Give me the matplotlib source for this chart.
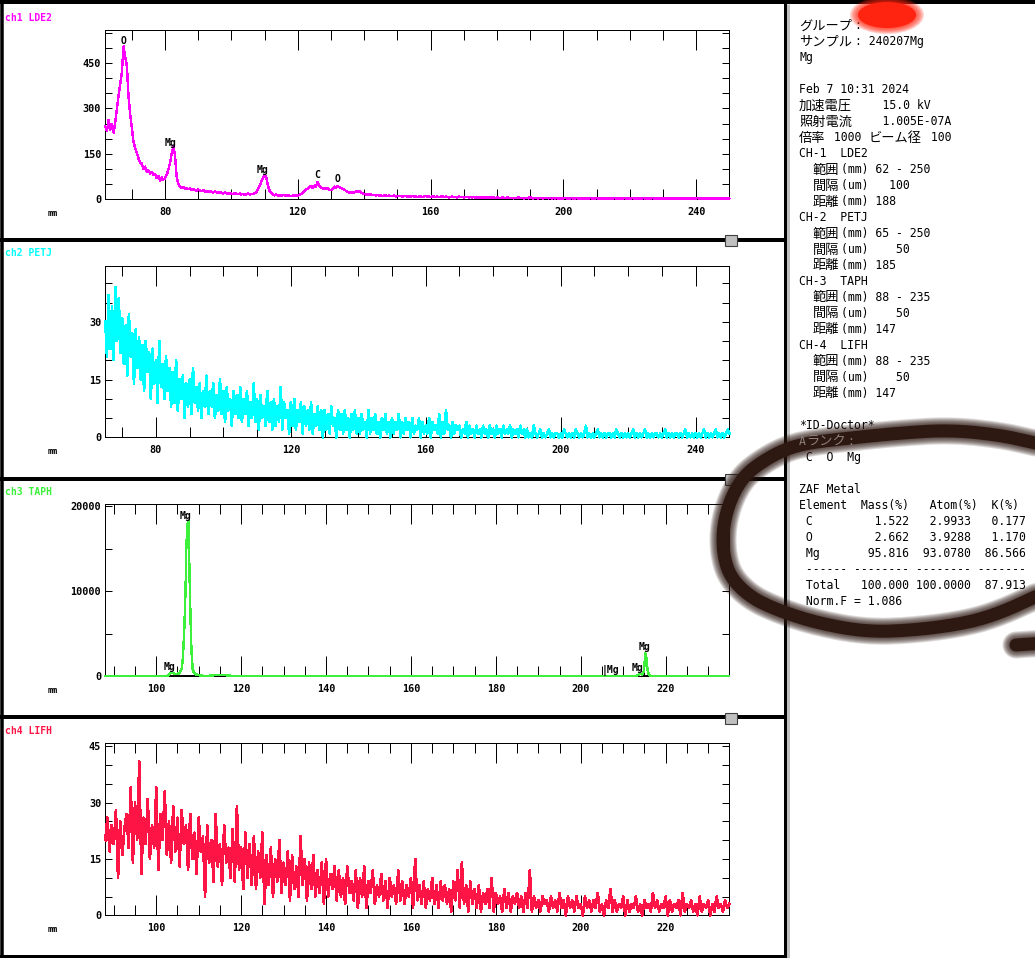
import numpy as np
import matplotlib.pyplot as plt
from matplotlib.patches import Rectangle, Ellipse
from matplotlib.ticker import MultipleLocator, FormatStrFormatter

W, H = 1035, 958

# ---- spectra, counts per step, 0.5 mm steps ----
ch1_start = 62.0
ch1_cps = [
    240, 225, 262, 230, 248, 220, 255, 300, 345, 380,
    420, 505, 470, 440, 340, 280, 235, 190, 170, 152,
    135, 120, 118, 100, 108, 92, 95, 85, 90, 80,
    82, 70, 76, 62, 72, 65, 70, 80, 98, 120,
    150, 175, 145, 75, 50, 42, 38, 40, 35, 37,
    34, 36, 30, 33, 31, 28, 32, 29, 27, 30,
    26, 28, 24, 27, 25, 22, 26, 23, 21, 24,
    22, 19, 23, 20, 18, 21, 19, 17, 20, 18,
    17, 19, 16, 18, 15, 17, 19, 16, 18, 17,
    20, 24, 32, 45, 58, 70, 80, 72, 45, 28,
    20, 15, 13, 16, 12, 14, 11, 15, 13, 10,
    14, 12, 10, 13, 11, 14, 12, 15, 18, 22,
    28, 32, 36, 40, 44, 38, 45, 42, 58, 44,
    40, 36, 38, 34, 37, 32, 30, 35, 42, 38,
    44, 40, 38, 35, 32, 28, 25, 22, 24, 20,
    22, 26, 24, 27, 22, 20, 18, 16, 17, 15,
    16, 14, 15, 13, 14, 12, 13, 11, 12, 13,
    11, 12, 10, 11, 12, 9, 11, 10, 12, 9,
    10, 11, 9, 10, 8, 11, 9, 10, 8, 9,
    10, 8, 9, 11, 8, 9, 7, 10, 9, 8,
    9, 7, 8, 10, 7, 9, 8, 6, 8, 9,
    7, 8, 6, 9, 7, 8, 6, 7, 8, 6,
    7, 6, 8, 5, 7, 6, 5, 7, 6, 5,
    6, 5, 7, 5, 6, 4, 6, 5, 4, 6,
    5, 4, 6, 5, 4, 5, 3, 5, 4, 6,
    4, 5, 3, 4, 5, 3, 8, 4, 3, 5,
    4, 3, 5, 4, 3, 4, 5, 3, 4, 3,
    4, 3, 4, 3, 2, 4, 3, 4, 3, 2,
    3, 4, 2, 3, 4, 3, 2, 3, 4, 2,
    3, 2, 4, 3, 2, 3, 4, 2, 3, 3,
    2, 3, 4, 2, 3, 2, 3, 4, 2, 3,
    3, 2, 3, 4, 2, 3, 2, 3, 5, 2,
    3, 2, 3, 2, 4, 3, 2, 3, 2, 3,
    4, 2, 3, 2, 3, 3, 2, 4, 2, 3,
    2, 3, 2, 4, 3, 2, 3, 2, 3, 2,
    3, 2, 4, 2, 3, 2, 3, 5, 2, 3,
    2, 3, 2, 3, 4, 2, 3, 2, 3, 2,
    3, 2, 4, 2, 3, 3, 2,
]
ch1_peaks = [("O", 67.5, 524), ("Mg", 81.5, 185), ("Mg", 109.5, 96),
             ("C", 125.8, 80), ("O", 131.9, 66)]

ch2_start = 65.0
ch2_cps = [
    30, 21, 37, 23, 34, 20, 39, 25, 36, 22,
    31, 19, 29, 16, 32, 21, 27, 14, 28, 18,
    26, 15, 24, 12, 25, 17, 22, 10, 23, 14,
    20, 9, 25, 13, 19, 10, 21, 12, 18, 8,
    17, 9, 20, 7, 15, 10, 16, 5, 14, 8,
    15, 6, 18, 9, 13, 7, 14, 5, 12, 8,
    16, 6, 12, 8, 14, 5, 11, 7, 15, 6,
    12, 4, 13, 7, 10, 3, 12, 6, 11, 5,
    13, 4, 10, 6, 12, 3, 9, 5, 14, 4,
    10, 2, 11, 5, 8, 3, 12, 4, 9, 2,
    10, 3, 8, 4, 13, 2, 9, 5, 7, 1,
    9, 3, 10, 2, 7, 4, 9, 1, 8, 3,
    7, 2, 9, 1, 6, 3, 8, 2, 7, 0,
    7, 2, 6, 1, 8, 3, 5, 0, 7, 2,
    6, 1, 7, 2, 5, 0, 6, 2, 7, 1,
    5, 1, 6, 2, 4, 0, 7, 1, 5, 2,
    6, 1, 4, 0, 5, 2, 6, 1, 4, 0,
    5, 1, 4, 2, 6, 0, 4, 1, 5, 2,
    4, 0, 5, 1, 3, 2, 5, 0, 4, 1,
    3, 1, 5, 0, 4, 2, 3, 1, 6, 0,
    4, 1, 7, 2, 3, 0, 4, 1, 3, 2,
    3, 0, 2, 1, 4, 0, 3, 1, 2, 0,
    3, 1, 2, 0, 3, 1, 2, 0, 3, 1,
    2, 0, 3, 1, 2, 0, 3, 1, 2, 1,
    3, 0, 2, 1, 2, 0, 3, 1, 2, 0,
    2, 0, 1, 0, 3, 1, 0, 1, 2, 0,
    1, 0, 1, 2, 0, 1, 0, 1, 1, 0,
    1, 0, 2, 1, 0, 1, 0, 1, 0, 2,
    1, 0, 1, 0, 1, 3, 0, 1, 0, 1,
    0, 1, 2, 0, 1, 0, 1, 0, 1, 1,
    0, 1, 0, 2, 1, 0, 1, 0, 1, 0,
    1, 0, 1, 2, 0, 1, 0, 1, 0, 1,
    2, 0, 1, 0, 1, 0, 1, 1, 0, 1,
    0, 1, 2, 0, 1, 0, 1, 0, 1, 1,
    0, 1, 0, 1, 2, 0, 1, 0, 1, 0,
    1, 0, 1, 0, 1, 2, 0, 1, 0, 1,
    0, 1, 2, 0, 1, 0, 1, 0, 1, 2,
    1,
]

ch3_mm = [88, 102.5, 103.0, 103.5, 104.0, 104.5, 105.0, 105.5, 106.0, 106.3,
          106.6, 106.9, 107.1, 107.4, 107.6, 107.85, 108.1, 108.3, 108.6, 109.0,
          109.5, 110.5, 112.0, 113.5, 115.0, 116.5, 118.0, 119.0, 212.5, 213.5,
          214.0, 214.5, 214.9, 215.2, 215.4, 215.7, 216.0, 216.5, 235]
ch3_cps = [0, 0, 250, 420, 380, 250, 300, 350, 900, 2300,
           5400, 10100, 15400, 17960, 18200, 11700, 6400, 2900, 740, 350,
           200, 80, 50, 120, 150, 120, 40, 0, 0, 120,
           280, 200, 600, 2700, 2400, 900, 200, 50, 0]
ch3_peaks = [("Mg", 107.0, 18830), ("Mg", 103.1, 1060), ("|Mg", 206.9, 665),
             ("Mg", 213.3, 940), ("Mg", 215.1, 3400)]
ch3_marks = [(102.8, 111.0), (214.6, 216.5)]

ch4_start = 88.0
ch4_cps = [
    20, 26, 17, 24, 19, 28, 10, 25, 16, 23,
    27, 18, 34, 14, 30, 20, 41, 11, 26, 19,
    31, 15, 24, 18, 34, 12, 27, 20, 33, 16,
    25, 14, 29, 17, 26, 13, 28, 19, 24, 12,
    27, 15, 22, 11, 26, 17, 21, 5, 24, 14,
    20, 9, 27, 13, 19, 8, 24, 14, 18, 10,
    23, 9, 29, 12, 18, 7, 22, 10, 19, 8,
    21, 7, 17, 10, 22, 3, 16, 8, 18, 5,
    15, 9, 20, 6, 14, 8, 17, 4, 16, 7,
    13, 5, 21, 8, 15, 4, 14, 7, 16, 5,
    12, 6, 14, 3, 15, 5, 11, 7, 13, 4,
    12, 5, 10, 3, 13, 6, 9, 4, 12, 2,
    10, 5, 13, 2, 9, 6, 12, 3, 8, 5,
    11, 4, 9, 2, 10, 5, 8, 3, 12, 4,
    9, 3, 8, 5, 10, 2, 15, 4, 8, 3,
    9, 2, 7, 4, 10, 3, 8, 2, 9, 4,
    8, 3, 7, 1, 9, 4, 12, 2, 14, 3,
    8, 1, 9, 3, 7, 2, 8, 1, 6, 3,
    7, 2, 10, 1, 6, 3, 5, 1, 7, 2,
    6, 1, 5, 3, 6, 2, 5, 1, 6, 2,
    12, 1, 5, 2, 4, 1, 5, 3, 4, 1,
    5, 2, 4, 1, 6, 2, 4, 0, 5, 2,
    4, 1, 5, 2, 3, 0, 5, 2, 4, 1,
    4, 2, 6, 1, 3, 0, 4, 2, 7, 1,
    4, 1, 3, 2, 5, 0, 4, 1, 3, 2,
    5, 1, 3, 0, 4, 2, 3, 1, 6, 2,
    4, 1, 3, 2, 5, 0, 4, 1, 3, 2,
    4, 0, 6, 1, 3, 2, 4, 1, 3, 0,
    5, 1, 3, 2, 4, 0, 3, 1, 5, 2,
    3, 1, 4, 2, 3,
]

# ---- info panel text ----
info_lines = [
    "グループ:",
    "サンプル: 240207Mg",
    "Mg",
    "",
    "Feb 7 10:31 2024",
    "加速電圧    15.0 kV",
    "照射電流    1.005E-07A",
    "倍率 1000 ビーム径 100",
    "CH-1  LDE2",
    "  範囲(mm) 62 - 250",
    "  間隔(um)   100",
    "  距離(mm) 188",
    "CH-2  PETJ",
    "  範囲(mm) 65 - 250",
    "  間隔(um)    50",
    "  距離(mm) 185",
    "CH-3  TAPH",
    "  範囲(mm) 88 - 235",
    "  間隔(um)    50",
    "  距離(mm) 147",
    "CH-4  LIFH",
    "  範囲(mm) 88 - 235",
    "  間隔(um)    50",
    "  距離(mm) 147",
    "",
    "*ID-Doctor*",
    None,            # Aランク: (under the brush stroke)
    " C  O  Mg",
    "",
    "ZAF Metal",
    "Element  Mass(%)   Atom(%)  K(%)",
]
zaf_elements = ["C", "O", "Mg"]
zaf_mass = [1.522, 2.662, 95.816]
zaf_atom = [2.9933, 3.9288, 93.0780]
zaf_k = [0.177, 1.170, 86.566]
zaf_total = (100.000, 100.0000, 87.913)
norm_f = 1.086

for el, m, a, k in zip(zaf_elements, zaf_mass, zaf_atom, zaf_k):
    info_lines.append(f" {el:<6}{m:9.3f}{a:9.4f}{k:8.3f}")
info_lines.append(" ------ -------- -------- -------")
info_lines.append(f" {'Total':<6}{zaf_total[0]:9.3f}{zaf_total[1]:9.4f}{zaf_total[2]:8.3f}")
info_lines.append(f" Norm.F = {norm_f:.3f}")

plt.rcParams['font.family'] = ['DejaVu Sans Mono']
plt.rcParams['font.weight'] = 'bold'
plt.rcParams['axes.linewidth'] = 0.72

fig = plt.figure(figsize=(W / 100, H / 100), dpi=100)
fig.patch.set_facecolor('white')


def spec_axes(box, xlim, ylim, xmaj, xmin, ymaj, ymin):
    l, t, r, b = box
    ax = fig.add_axes([l / W, 1 - b / H, (r - l) / W, (b - t) / H])
    ax.set_xlim(*xlim)
    ax.set_ylim(*ylim)
    ax.xaxis.set_major_locator(MultipleLocator(xmaj))
    ax.xaxis.set_minor_locator(MultipleLocator(xmin))
    ax.yaxis.set_major_locator(MultipleLocator(ymaj))
    ax.yaxis.set_minor_locator(MultipleLocator(ymin))
    ax.xaxis.set_major_formatter(FormatStrFormatter('%d'))
    ax.yaxis.set_major_formatter(FormatStrFormatter('%d'))
    ax.tick_params(which='both', direction='in', top=True, right=True,
                   width=0.72, labelsize=7.3, colors='black')
    ax.tick_params(axis='x', which='major', length=14.4, pad=5.5)
    ax.tick_params(axis='x', which='minor', length=7.2)
    ax.tick_params(axis='y', which='both', length=5, pad=3)
    return ax


colors = {'ch1': '#ff00ff', 'ch2': '#00ffff', 'ch3': '#3cf03c', 'ch4': '#ff1446'}

ax1 = spec_axes((105.3, 30.3, 729.3, 199.3), (62, 250), (0, 558), 40, 10, 150, 50)
x1 = ch1_start + 0.5 * np.arange(len(ch1_cps))
ax1.plot(x1, ch1_cps, color=colors['ch1'], lw=1.0, antialiased=False, clip_on=False, zorder=3)
for s, x, y in ch1_peaks:
    ax1.text(x, y, s, ha='center', va='center', fontsize=7, fontweight='bold')

ax2 = spec_axes((105.3, 266.3, 729.3, 437.3), (65, 250), (0, 44.4), 40, 10, 15, 5)
x2 = ch2_start + 0.5 * np.arange(len(ch2_cps))
ax2.plot(x2, ch2_cps, color=colors['ch2'], lw=1.2, antialiased=False, clip_on=False, zorder=3)

ax3 = spec_axes((105.3, 504.3, 729.3, 676.3), (88, 235), (0, 20200), 20, 5, 10000, 5000)
ax3.plot(ch3_mm, ch3_cps, color=colors['ch3'], lw=1.0, antialiased=False, clip_on=False, zorder=3)
for x0, x1_ in ch3_marks:
    ax3.plot([x0, x1_], [0, 0], color='black', lw=1.4, clip_on=False, zorder=2.8)
for s, x, y in ch3_peaks:
    ax3.text(x, y, s, ha='center', va='center', fontsize=7, fontweight='bold')

ax4 = spec_axes((105.3, 743.3, 729.3, 915.3), (88, 235), (0, 45.8), 20, 5, 15, 5)
x4 = ch4_start + 0.5 * np.arange(len(ch4_cps))
ax4.plot(x4, ch4_cps, color=colors['ch4'], lw=1.2, antialiased=False, clip_on=False, zorder=3)

# ---- overlay in pixel coordinates: frames, titles, info text, hand marks ----
ov = fig.add_axes([0, 0, 1, 1])
ov.set_xlim(0, W)
ov.set_ylim(H, 0)
ov.axis('off')
ov.set_zorder(10)

px = 0.72  # points per pixel
ov.plot([0, W], [2, 2], color='black', lw=4 * px, solid_capstyle='butt')
for y in (239.7, 478.7, 717.2, 956.5):
    ov.plot([0, 785], [y, y], color='black', lw=4 * px, solid_capstyle='butt')
ov.plot([1.8, 1.8], [0, H], color='black', lw=3.5 * px, solid_capstyle='butt')
ov.plot([785, 785], [0, H], color='black', lw=3 * px, solid_capstyle='butt')
ov.plot([788, 788], [4, H], color='#c0c0c0', lw=3 * px, solid_capstyle='butt')
for y in (235, 474, 713):
    ov.add_patch(Rectangle((725, y), 12, 11, facecolor='#c0c0c0',
                           edgecolor='#404040', lw=0.8, zorder=5))

titles = [("ch1 LDE2", 21, 'ch1'), ("ch2 PETJ", 256, 'ch2'),
          ("ch3 TAPH", 495, 'ch3'), ("ch4 LIFH", 734, 'ch4')]
for s, yb, key in titles:
    ov.text(5, yb, s, color=colors[key], fontsize=7, fontweight='bold', va='baseline')
for yb in (213.0, 451.3, 690.7, 930.0):
    ov.text(53, yb, "mm", fontsize=6, fontweight='bold', ha='center', va='center')

CW = 6.95  # character cell width in pixels


def text_runs(s):
    runs = []
    for ch in s:
        wide = ord(ch) > 0x2E7F
        if runs and runs[-1][0] == wide:
            runs[-1][1] += ch
        else:
            runs.append([wide, ch])
    return runs


def put_line(x0, yb, s, color='black', z=6):
    col = 0
    for wide, seg in text_runs(s):
        if wide:
            ov.text(x0 + col * CW, yb + 0.5, seg, family='Noto Sans CJK JP', fontsize=1.9 * CW * px,
                    fontweight='normal', color=color, va='baseline', zorder=z)
        else:
            ov.text(x0 + col * CW, yb, seg, family='DejaVu Sans Mono', fontsize=CW / 0.602 * px,
                    fontweight='normal', color=color, va='baseline', zorder=z)
        col += len(seg) * (2 if wide else 1)


for i, s in enumerate(info_lines):
    if s:
        put_line(799, 29 + 16 * i, s)

# red smudge over the group name (soft rim, solid middle)
for k in range(6):
    w = 74 - 3 * k
    h = 38 - 2 * k
    ov.add_patch(Ellipse((887, 15), w, h, facecolor='#ff2410', edgecolor='none',
                         alpha=0.2, zorder=7))
ov.add_patch(Ellipse((887, 15), 58, 26, facecolor='#ff2410', edgecolor='none', zorder=7))


def chaikin(pts, n=3):
    p = np.array(pts, float)
    for _ in range(n):
        q = 0.75 * p[:-1] + 0.25 * p[1:]
        r = 0.25 * p[:-1] + 0.75 * p[1:]
        p = np.vstack([p[:1], np.column_stack([q, r]).reshape(-1, 2), p[-1:]])
    return p


brush_loop = [(1050, 446), (1035, 443), (1000, 435), (950, 430), (900, 433), (850, 438),
              (807, 443), (783, 450), (760, 463), (743, 477), (730, 500), (723, 527),
              (723, 553), (730, 577), (750, 597), (777, 610), (817, 623), (867, 632),
              (917, 630), (967, 623), (1000, 613), (1035, 597), (1050, 590)]
brush_tail = [(1016, 645), (1030, 644), (1050, 643)]
brown = '#2d1812'
for pts in (brush_loop, brush_tail):
    p = chaikin(pts)
    for lw in (27, 25, 23, 21, 19, 17, 15):
        ov.plot(p[:, 0], p[:, 1], color=brown, lw=lw * px, alpha=0.17,
                solid_capstyle='round', solid_joinstyle='round', zorder=7)
    ov.plot(p[:, 0], p[:, 1], color=brown, lw=13 * px,
            solid_capstyle='round', solid_joinstyle='round', zorder=7)

put_line(799, 29 + 16 * 26, "Aランク:", color='#8a7c78', z=8)

fig.savefig('out.png', dpi=100)
